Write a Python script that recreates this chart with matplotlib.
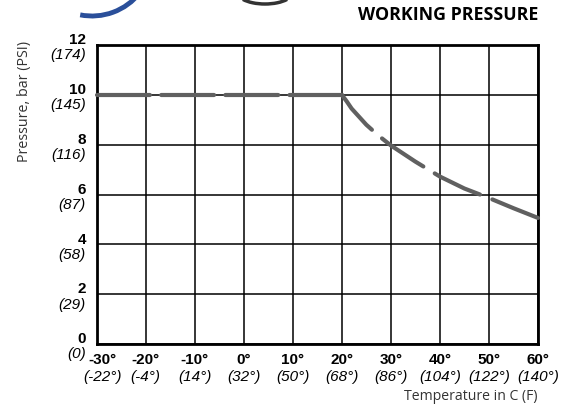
import matplotlib
matplotlib.use("Agg")
import matplotlib.pyplot as plt
from matplotlib.patches import Arc
from matplotlib.transforms import blended_transform_factory

# data
temp_c = [-30, 20, 21, 22, 25, 27.5, 30, 35, 40, 45, 50, 55, 60]
pressure_bar = [10, 10, 9.74, 9.45, 8.8, 8.36, 7.97, 7.32, 6.72, 6.24, 5.86, 5.45, 5.06]

x_ticks = [-30, -20, -10, 0, 10, 20, 30, 40, 50, 60]
x_labels_c = ['-30°', '-20°', '-10°', '0°', '10°', '20°', '30°', '40°', '50°', '60°']
x_labels_f = ['(-22°)', '(-4°)', '(14°)', '(32°)', '(50°)', '(68°)', '(86°)', '(104°)', '(122°)', '(140°)']

y_ticks = [0, 2, 4, 6, 8, 10, 12]
y_labels_bar = ['0', '2', '4', '6', '8', '10', '12']
y_labels_psi = ['(0)', '(29)', '(58)', '(87)', '(116)', '(145)', '(174)']

fig = plt.figure(figsize=(5.71, 4.07), dpi=100)
ax = fig.add_axes([96.5 / 571, 1 - 344 / 407, (538 - 96.5) / 571, (344 - 45) / 407])

ax.set_xlim(-30, 60)
ax.set_ylim(0, 12)
ax.set_xticks(x_ticks)
ax.set_yticks(y_ticks)
ax.grid(True, color='black', linewidth=1.1)
ax.tick_params(length=0, labelbottom=False, labelleft=False)
for s in ax.spines.values():
    s.set_linewidth(2.0)
    s.set_color('black')

# flat part and falling part get their own dash phase
flat, = ax.plot(temp_c[:2], pressure_bar[:2], color='#606060', linewidth=3.0,
                linestyle=(0, (12.7, 2.7)), dash_capstyle='round', zorder=3)
curve, = ax.plot(temp_c[1:], pressure_bar[1:], color='#606060', linewidth=3.0,
                 linestyle=(0.9, (12.0, 3.2)), dash_capstyle='round', zorder=3)
for ln in (flat, curve):
    ln.set_clip_on(False)

num_font = 'Liberation Sans'
fs = 11
tb = blended_transform_factory(ax.transData, ax.transAxes)
for i, (x, c, f) in enumerate(zip(x_ticks, x_labels_c, x_labels_f)):
    dx = 6 / 49 * 10 if i == 0 else 0
    ax.text(x + dx, -0.031, c, transform=tb, ha='center', va='top',
            fontsize=fs, fontweight='bold', family=num_font)
    ax.text(x + dx, -0.086, f, transform=tb, ha='center', va='top',
            fontsize=fs, fontstyle='italic', family=num_font)

tl = blended_transform_factory(ax.transAxes, ax.transData)
for i, (y, b, p) in enumerate(zip(y_ticks, y_labels_bar, y_labels_psi)):
    ax.text(-0.024, y + 0.03, b, transform=tl, ha='right', va='baseline',
            fontsize=fs, fontweight='bold', family=num_font)
    ax.text(-0.024, y - 0.14, p, transform=tl, ha='right', va='top',
            fontsize=fs, fontstyle='italic', family=num_font)

fig.text(25 / 571, 1 - 101 / 407, 'Pressure, bar (PSI)', rotation=90,
         ha='center', va='center', fontsize=10.3, family='Open Sans', color='#333333')
fig.text(537 / 571, 1 - 396 / 407, 'Temperature in C (F)', ha='right', va='center',
         fontsize=10.1, family='Open Sans', color='#333333')
fig.text(538 / 571, 1 - 14.5 / 407, 'WORKING PRESSURE', ha='right', va='center',
         fontsize=12.8, fontweight='bold', family='Open Sans')

# cropped logo fragment at the top
fig.patches.append(Arc((92 / 571, 1 + 45 / 407), 122 / 571, 122 / 407, theta1=262, theta2=312,
                       transform=fig.transFigure, color='#2a4f9a', linewidth=3.5))
fig.patches.append(Arc((265 / 571, 1 + 8 / 407), 56 / 571, 24 / 407, theta1=205, theta2=335,
                       transform=fig.transFigure, color='#333333', linewidth=2.5))

fig.savefig('out.png', dpi=100)
